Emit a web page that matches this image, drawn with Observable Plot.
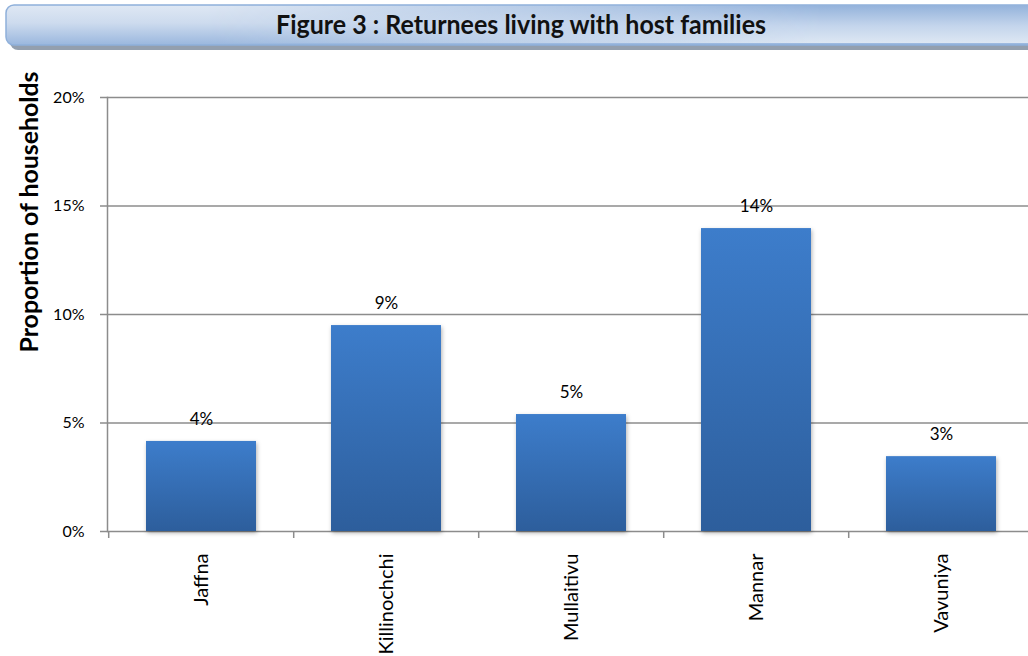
<!DOCTYPE html>
<html>
<head>
<meta charset="utf-8">
<script src="https://cdn.jsdelivr.net/npm/d3@7"></script>
<script src="https://cdn.jsdelivr.net/npm/@observablehq/plot@0.6"></script>
<style>
  html, body { margin: 0; padding: 0; background: #fff; overflow: hidden; width: 1028px; height: 656px; }
  #title { height: 52px; width: 1028px; overflow: hidden; }
  #title svg { display: block; }
  #chart { width: 1028px; overflow: hidden; }
  #chart svg { display: block; max-width: none !important; }
  g[aria-label="bar"] { filter: drop-shadow(1px 2px 2px rgba(0,0,0,0.3)); }
</style>
</head>
<body>
<div id="title"></div>
<div id="chart"></div>
<script>
const titleText = "Figure 3 : Returnees living with host families";
const yLabel = "Proportion of households";
const categories = ["Jaffna", "Killinochchi", "Mullaitivu", "Mannar", "Vavuniya"];
const values = [4.15, 9.49, 5.39, 13.96, 3.45];
const yTicks = [0, 5, 10, 15, 20];

const data = categories.map((c, i) => ({category: c, value: values[i]}));

// Title bar
{
  const svg = d3.select("#title").append("svg").attr("width", 1028).attr("height", 52);
  const defs = svg.append("defs");
  const g1 = defs.append("linearGradient").attr("id", "tg1").attr("x1", 0).attr("y1", 0).attr("x2", 0).attr("y2", 1);
  g1.append("stop").attr("offset", 0).attr("stop-color", "#dfe8f4");
  g1.append("stop").attr("offset", 0.45).attr("stop-color", "#cddbee");
  g1.append("stop").attr("offset", 1).attr("stop-color", "#9ab7de");
  const g2 = defs.append("linearGradient").attr("id", "tg2").attr("x1", 0).attr("y1", 0).attr("x2", 0).attr("y2", 1);
  g2.append("stop").attr("offset", 0).attr("stop-color", "#93b2db");
  g2.append("stop").attr("offset", 0.55).attr("stop-color", "#c4d5ec");
  g2.append("stop").attr("offset", 1).attr("stop-color", "#dde7f3");
  const mg = defs.append("linearGradient").attr("id", "mg").attr("x1", 0).attr("y1", 0).attr("x2", 1).attr("y2", 0);
  mg.append("stop").attr("offset", 0.2).attr("stop-color", "#000");
  mg.append("stop").attr("offset", 0.8).attr("stop-color", "#fff");
  const mask = defs.append("mask").attr("id", "tm").attr("maskUnits", "userSpaceOnUse")
    .attr("x", 0).attr("y", 0).attr("width", 1028).attr("height", 52);
  mask.append("rect").attr("x", 0).attr("y", 0).attr("width", 1028).attr("height", 52).attr("fill", "url(#mg)");
  svg.append("rect").attr("x", 10).attr("y", 10).attr("width", 1040).attr("height", 40).attr("rx", 8).attr("fill", "#939fae");
  svg.append("rect").attr("x", 6).attr("y", 5).attr("width", 1040).attr("height", 40).attr("rx", 8)
    .attr("fill", "url(#tg1)").attr("stroke", "#8fb0da").attr("stroke-width", 1.5);
  svg.append("rect").attr("x", 6).attr("y", 5).attr("width", 1040).attr("height", 38).attr("rx", 8)
    .attr("fill", "url(#tg2)").attr("mask", "url(#tm)");
  svg.append("text").attr("x", 521).attr("y", 34).attr("text-anchor", "middle")
    .attr("font-family", "Lato, sans-serif").attr("font-weight", "bold").attr("font-size", 26)
    .attr("fill", "#111").attr("textLength", 490).attr("lengthAdjust", "spacingAndGlyphs")
    .text(titleText);
}

const W = 1035, ML = 107;
const step = (W - ML) / categories.length;

const defsMark = () => {
  const defs = d3.create("svg:defs");
  const g = defs.append("linearGradient").attr("id", "barGrad").attr("x1", 0).attr("y1", 0).attr("x2", 0).attr("y2", 1);
  g.append("stop").attr("offset", 0).attr("stop-color", "#3d7dcb");
  g.append("stop").attr("offset", 1).attr("stop-color", "#2d5e9c");
  return defs.node();
};

// Y axis title (rotated), placed in the left margin
const yTitleMark = () => {
  const t = d3.create("svg:text")
    .attr("transform", "translate(28,160) rotate(-90)")
    .attr("text-anchor", "middle")
    .attr("dominant-baseline", "central")
    .attr("font-family", "Lato, sans-serif")
    .attr("font-weight", "bold")
    .attr("font-size", 24)
    .attr("fill", "#000")
    .attr("textLength", 281)
    .attr("lengthAdjust", "spacingAndGlyphs")
    .text(yLabel);
  return t.node();
};

const chart = Plot.plot({
  width: W,
  height: 604,
  marginLeft: ML,
  marginRight: 0,
  marginTop: 45,
  marginBottom: 125,
  style: {fontFamily: "Lato, sans-serif", fontSize: "16px", color: "#000", background: "#fff"},
  x: {domain: categories, paddingInner: 0.407, paddingOuter: 0.2035},
  y: {domain: [0, 20]},
  marks: [
    defsMark,
    Plot.ruleY(yTicks, {y: d => d, stroke: "#8c8c8c", strokeWidth: 1.5, insetLeft: -7}),
    Plot.frame({anchor: "left", stroke: "#8c8c8c", strokeWidth: 1.5}),
    Plot.ruleX(categories, {x: d => d, y1: 0, y2: 0, insetBottom: -7, dx: -step / 2, stroke: "#8c8c8c", strokeWidth: 1.5}),
    Plot.barY(data, {x: "category", y: "value", fill: "url(#barGrad)"}),
    Plot.text(data, {x: "category", y: "value", text: d => Math.round(d.value) + "%", dy: -22, lineAnchor: "middle", fontSize: 17, fill: "#000"}),
    Plot.axisY({ticks: yTicks, tickFormat: d => d + "%", tickSize: 0, tickPadding: 23, fontSize: 16, label: null}),
    Plot.axisX({tickSize: 0, tickRotate: -90, tickPadding: 22, fontSize: 20, label: null}),
    yTitleMark
  ]
});
document.getElementById("chart").appendChild(chart);
</script>
</body>
</html>
